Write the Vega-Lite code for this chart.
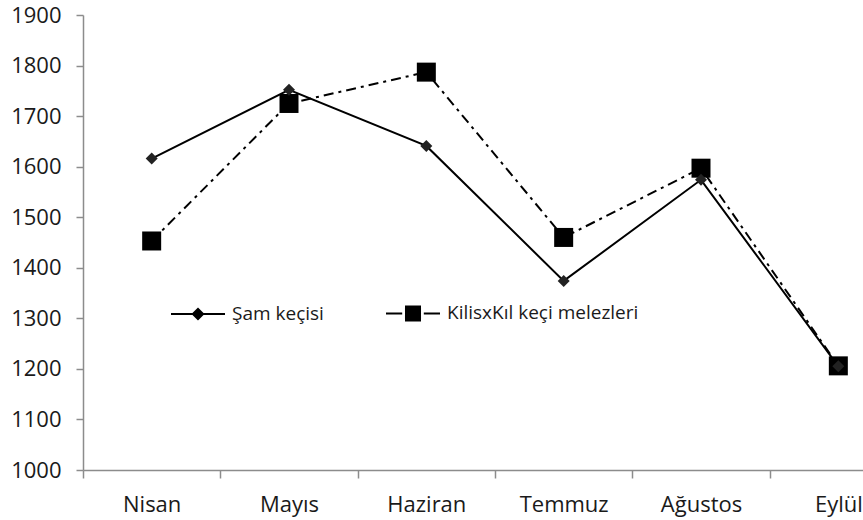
{
  "$schema": "https://vega.github.io/schema/vega-lite/v6.json",
  "width": 780,
  "height": 455,
  "autosize": {"type": "none"},
  "padding": {"left": 83, "top": 15, "right": 0, "bottom": 50},
  "background": "white",
  "config": {
    "view": {"stroke": null},
    "font": "Open Sans"
  },
  "data": {
    "values": [
      {"ay": "Nisan", "grup": "Şam keçisi", "deger": 1616},
      {"ay": "Mayıs", "grup": "Şam keçisi", "deger": 1752},
      {"ay": "Haziran", "grup": "Şam keçisi", "deger": 1641},
      {"ay": "Temmuz", "grup": "Şam keçisi", "deger": 1374},
      {"ay": "Ağustos", "grup": "Şam keçisi", "deger": 1574},
      {"ay": "Eylül", "grup": "Şam keçisi", "deger": 1205},
      {"ay": "Nisan", "grup": "KilisxKıl keçi melezleri", "deger": 1453},
      {"ay": "Mayıs", "grup": "KilisxKıl keçi melezleri", "deger": 1725},
      {"ay": "Haziran", "grup": "KilisxKıl keçi melezleri", "deger": 1787},
      {"ay": "Temmuz", "grup": "KilisxKıl keçi melezleri", "deger": 1460},
      {"ay": "Ağustos", "grup": "KilisxKıl keçi melezleri", "deger": 1597},
      {"ay": "Eylül", "grup": "KilisxKıl keçi melezleri", "deger": 1206}
    ]
  },
  "encoding": {
    "x": {
      "field": "ay",
      "type": "nominal",
      "sort": ["Nisan", "Mayıs", "Haziran", "Temmuz", "Ağustos", "Eylül"],
      "scale": {"type": "band", "range": [0, 824], "paddingInner": 0, "paddingOuter": 0},
      "axis": {
        "title": null,
        "labelAngle": 0,
        "tickBand": "extent",
        "domainColor": "#8c8c8c",
        "domainWidth": 1.5,
        "tickColor": "#8c8c8c",
        "tickWidth": 1.5,
        "tickSize": 8,
        "labelFont": "Open Sans",
        "labelFontSize": 22,
        "labelColor": "#1a1a1a",
        "labelPadding": 16
      }
    },
    "y": {
      "field": "deger",
      "type": "quantitative",
      "scale": {"domain": [1000, 1900], "nice": false, "zero": false},
      "axis": {
        "title": null,
        "format": "d",
        "values": [1000, 1100, 1200, 1300, 1400, 1500, 1600, 1700, 1800, 1900],
        "grid": false,
        "domainColor": "#8c8c8c",
        "domainWidth": 1.5,
        "tickColor": "#8c8c8c",
        "tickWidth": 1.5,
        "tickSize": 7,
        "labelFont": "Open Sans",
        "labelFontSize": 22,
        "labelColor": "#1a1a1a",
        "labelPadding": 15
      }
    }
  },
  "layer": [
    {
      "transform": [{"filter": "datum.grup === 'KilisxKıl keçi melezleri'"}],
      "mark": {"type": "line", "strokeWidth": 2, "color": "black", "strokeDash": [10, 5, 3, 5]}
    },
    {
      "transform": [{"filter": "datum.grup === 'Şam keçisi'"}],
      "mark": {"type": "line", "strokeWidth": 2},
      "encoding": {
        "color": {
          "field": "grup",
          "type": "nominal",
          "scale": {"domain": ["Şam keçisi", "KilisxKıl keçi melezleri"], "range": ["black", "black"]},
          "legend": {
            "title": null,
            "orient": "none",
            "direction": "horizontal",
            "legendX": 87,
            "legendY": 270,
            "padding": 0,
            "symbolSize": 2916,
            "symbolStrokeWidth": 2,
            "labelFont": "Open Sans",
            "labelFontSize": 19,
            "labelColor": "#1a1a1a",
            "labelOffset": 6,
            "columnPadding": 58,
            "labelLimit": 400,
            "encode": {
              "symbols": {
                "update": {
                  "shape": {"signal": "datum.value === 'Şam keçisi' ? 'M-1,0H1M-0.19,0L0,-0.19L0.19,0L0,0.19Z' : 'M-1,0H-0.4M0.4,0H1M-0.26,-0.26H0.26V0.26H-0.26Z'"},
                  "fill": {"value": "black"},
                  "stroke": {"value": "black"},
                  "strokeWidth": {"value": 2},
                  "opacity": {"value": 1}
                }
              }
            }
          }
        }
      }
    },
    {
      "transform": [{"filter": "datum.grup === 'KilisxKıl keçi melezleri'"}],
      "mark": {"type": "point", "shape": "square", "filled": true, "size": 361, "color": "black", "opacity": 1}
    },
    {
      "transform": [{"filter": "datum.grup === 'Şam keçisi'"}],
      "mark": {"type": "point", "shape": "diamond", "filled": true, "size": 144, "color": "#222222", "opacity": 1}
    }
  ]
}
